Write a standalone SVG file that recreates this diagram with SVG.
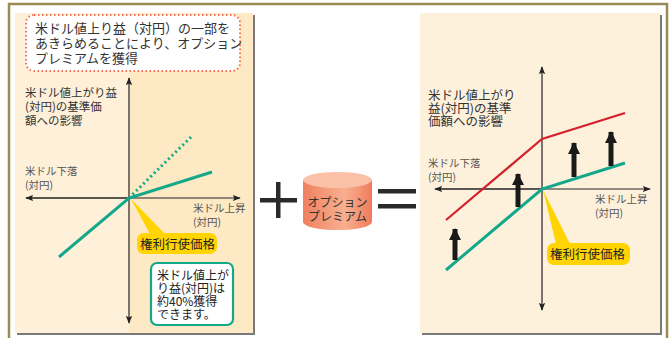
<svg xmlns="http://www.w3.org/2000/svg" width="672" height="338" viewBox="0 0 672 338">
<defs>
<style>
text{font-family:"Noto Sans CJK JP","Noto Sans CJK SC",sans-serif;fill:#333}
.ax{stroke:#222;stroke-width:1.2;fill:none}
.lbl{font-size:10.5px;fill:#555}
.hd{font-size:11.5px;fill:#333}
.hdr{font-size:12.5px;fill:#333}
.grn{stroke:#14a88a;stroke-width:3;fill:none}
.red{stroke:#d4202c;stroke-width:2.2;fill:none}
.call{fill:#ffd400}
.ctext{font-size:12.5px;fill:#222}
.gtext{font-size:12px;fill:#222}
</style>
<marker id="ah" viewBox="0 0 10 10" refX="9" refY="5" markerWidth="8" markerHeight="8" markerUnits="userSpaceOnUse" orient="auto"><path d="M0,1 L10,5 L0,9 L2,5 Z" fill="#222"/></marker>
<linearGradient id="cyl" x1="0" x2="1" y1="0" y2="0"><stop offset="0" stop-color="#f08060"/><stop offset="0.6" stop-color="#f8b090"/><stop offset="1" stop-color="#f07c5c"/></linearGradient>
<marker id="bh" viewBox="0 0 12 12" refX="6" refY="1" markerWidth="12" markerHeight="12" markerUnits="userSpaceOnUse" orient="0"><path d="M0,12 L6,0 L12,12 Z" fill="#1a1a1a"/></marker>
</defs>
<rect width="672" height="338" fill="#fff"/>
<path d="M9,338 V4 H667 V338" fill="none" stroke="#9a8a55" stroke-width="2.5"/>

<g id="left-panel">
<rect x="17" y="15" width="238" height="320" fill="#7a7a7a"/>
<rect x="15" y="13" width="238" height="320" fill="#fde9c4"/>
<rect x="15" y="13" width="114" height="320" fill="#fef0d9"/>
</g>

<g id="right-panel">
<rect x="422" y="15" width="240" height="320" fill="#7a7a7a"/>
<rect x="420" y="13" width="240" height="320" fill="#fef1dc"/>
</g>

<g id="note-top">
<rect x="26" y="15" width="214" height="56" rx="8" fill="#fff" stroke="#f07055" stroke-width="2" stroke-dasharray="1.5,2.5"/>
<text x="35" y="33" font-size="13">米ドル値上り益（対円）の一部を</text>
<text x="35" y="48" font-size="13">あきらめることにより、オプション</text>
<text x="35" y="63" font-size="13">プレミアムを獲得</text>
</g>

<g id="left-labels">
<text class="hd" x="25" y="97">米ドル値上がり益</text>
<text class="hd" x="25" y="111">(対円)の基準価</text>
<text class="hd" x="25" y="125">額への影響</text>
<text class="lbl" x="25" y="175">米ドル下落</text>
<text class="lbl" x="25" y="189">(対円)</text>
<text class="lbl" x="193" y="212">米ドル上昇</text>
<text class="lbl" x="193" y="226">(対円)</text>
</g>

<g id="connectors">
<line class="ax" x1="129" y1="322" x2="129" y2="78" marker-end="url(#ah)"/>
<line class="ax" x1="129" y1="322" x2="129" y2="323" marker-end="url(#ah)"/>
<line class="ax" x1="26" y1="198" x2="240" y2="198" marker-end="url(#ah)"/>
<line class="ax" x1="129" y1="198" x2="26" y2="198" marker-end="url(#ah)"/>
<line x1="129" y1="198" x2="193" y2="135" stroke="#14a88a" stroke-width="3" stroke-dasharray="2,3"/>
<polyline class="grn" points="59,257 129,198 212,172"/>

<line class="ax" x1="542" y1="310" x2="542" y2="67" marker-end="url(#ah)"/>
<line class="ax" x1="542" y1="309" x2="542" y2="310" marker-end="url(#ah)"/>
<line class="ax" x1="435" y1="189" x2="650" y2="189" marker-end="url(#ah)"/>
<line class="ax" x1="542" y1="189" x2="435" y2="189" marker-end="url(#ah)"/>
<polyline class="red" points="446,220 542,139 625,113"/>
<polyline class="grn" points="446,270 542,189 625,163"/>
<line x1="455" y1="260" x2="455" y2="229" stroke="#1a1a1a" stroke-width="5" marker-end="url(#bh)"/>
<line x1="518" y1="207" x2="518" y2="174" stroke="#1a1a1a" stroke-width="5" marker-end="url(#bh)"/>
<line x1="574" y1="177" x2="574" y2="143" stroke="#1a1a1a" stroke-width="5" marker-end="url(#bh)"/>
<line x1="611" y1="166" x2="611" y2="132" stroke="#1a1a1a" stroke-width="5" marker-end="url(#bh)"/>
</g>

<g id="callout-left">
<path d="M131,199 L150,234 L165,234 Z" class="call"/>
<rect x="137" y="233" width="80" height="21" rx="7" class="call"/>
<text class="ctext" x="140" y="248.5">権利行使価格</text>
</g>

<g id="note-green">
<rect x="151" y="263" width="82" height="62" rx="6" fill="#fff" stroke="#14a88a" stroke-width="2.2"/>
<text class="gtext" x="157" y="280">米ドル値上が</text>
<text class="gtext" x="157" y="293">り益(対円)は</text>
<text class="gtext" x="157" y="306">約40%獲得</text>
<text class="gtext" x="157" y="319">できます。</text>
</g>

<g id="plus">
<rect x="260" y="198" width="37" height="4.5" fill="#2a2a2a"/>
<rect x="276" y="182" width="4.5" height="36" fill="#2a2a2a"/>
</g>

<g id="premium">
<path d="M303,180 V222 A34.5,8 0 0 0 372,222 V180 Z" fill="url(#cyl)"/>
<ellipse cx="337.5" cy="180" rx="34.5" ry="8" fill="#fbc0a8"/>
<text x="337.5" y="207" font-size="12" text-anchor="middle" fill="#333">オプション</text>
<text x="337.5" y="221" font-size="12" text-anchor="middle" fill="#333">プレミアム</text>
</g>

<g id="equals">
<rect x="378" y="189" width="38" height="4.5" fill="#2a2a2a"/>
<rect x="378" y="204" width="38" height="4.5" fill="#2a2a2a"/>
</g>

<g id="right-panel-labels">
<text class="hdr" x="428" y="100">米ドル値上がり</text>
<text class="hdr" x="428" y="113">益(対円)の基準</text>
<text class="hdr" x="428" y="126">価額への影響</text>
<text class="lbl" x="428" y="167">米ドル下落</text>
<text class="lbl" x="428" y="181">(対円)</text>
<text class="lbl" x="595" y="203">米ドル上昇</text>
<text class="lbl" x="595" y="217">(対円)</text>
</g>

<g id="callout-right">
<path d="M543,190 L556,244 L570,244 Z" class="call"/>
<rect x="547" y="243" width="83" height="22" rx="7" class="call"/>
<text class="ctext" x="550" y="259">権利行使価格</text>
</g>
</svg>
